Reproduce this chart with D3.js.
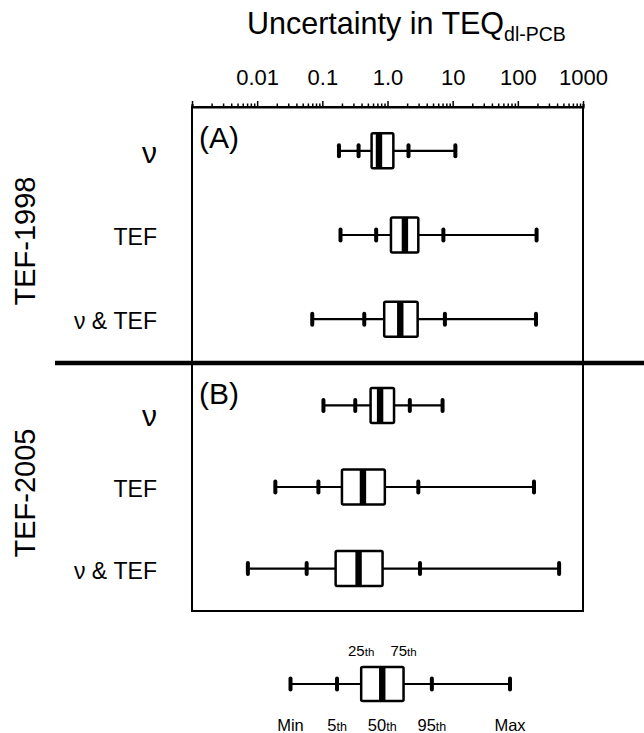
<!DOCTYPE html>
<html>
<head>
<meta charset="utf-8">
<script src="https://cdn.jsdelivr.net/npm/d3@7/dist/d3.min.js"></script>
<style>
  html, body { margin: 0; padding: 0; background: #fff; }
  svg { display: block; font-family: "Liberation Sans", Arial, Helvetica, sans-serif; }
</style>
</head>
<body>
<svg id="chart" width="644" height="733"></svg>
<script>
// ---------- data ----------
const categories = ["\u03bd", "TEF", "\u03bd & TEF"];
const panelNames = ["TEF-1998", "TEF-2005"];
const panelTags = ["(A)", "(B)"];
// stats order: min, 5th, 25th, 50th, 75th, 95th, max
const tef1998Nu     = [0.18, 0.36, 0.57, 0.74, 1.23, 2.1, 11];
const tef1998Tef    = [0.19, 0.67, 1.13, 1.85, 2.97, 7.2, 194];
const tef1998NuTef  = [0.07, 0.44, 0.89, 1.57, 2.9, 7.6, 190];
const tef2005Nu     = [0.104, 0.32, 0.55, 0.77, 1.26, 2.2, 7.0];
const tef2005Tef    = [0.019, 0.087, 0.2, 0.42, 0.91, 2.97, 177];
const tef2005NuTef  = [0.0072, 0.0575, 0.16, 0.36, 0.84, 3.15, 430];
const tickValues = [0.01, 0.1, 1, 10, 100, 1000];
const tickLabels = ["0.01", "0.1", "1.0", "10", "100", "1000"];
// legend (schematic positions, in percent of legend width)
const legendStats = [0, 21.2, 32.2, 41.8, 51.5, 64.4, 100];
const legendTop = [["25", "th"], ["75", "th"]];
const legendBottom = [["Min", ""], ["5", "th"], ["50", "th"], ["95", "th"], ["Max", ""]];

const panelData = [
  [tef1998Nu, tef1998Tef, tef1998NuTef],
  [tef2005Nu, tef2005Tef, tef2005NuTef]
];

(function () {
// ---------- layout ----------
const svg = d3.select("#chart");
const pL = 192, pR = 583, pT = 107, pM = 363, pB = 611;
const x = d3.scaleLog().domain([0.001, 1000]).range([pL, pR]);
const panelRanges = [[pT, pM], [pM, pB]];
const boxH = 35;

// title
const title = svg.append("text").attr("x", 247).attr("y", 34)
  .attr("font-size", 30.5).attr("fill", "#000");
title.append("tspan").text("Uncertainty in TEQ");
title.append("tspan").attr("font-size", 19.5).attr("dy", 7).text("dl-PCB");

// frame
svg.append("rect").attr("x", pL).attr("y", pT)
  .attr("width", pR - pL).attr("height", pB - pT)
  .attr("fill", "none").attr("stroke", "#000").attr("stroke-width", 2);

// top axis: minor ticks
const allTicks = x.ticks();
const isDecade = d => { const l = Math.log10(d); return Math.abs(l - Math.round(l)) < 1e-9; };
const axisG = svg.append("g").attr("transform", `translate(0,${pT})`)
  .call(d3.axisTop(x).tickValues(allTicks).tickSize(3).tickFormat(""));
axisG.select(".domain").attr("stroke-width", 2.2);
axisG.selectAll(".tick line")
  .attr("stroke-width", 1.5)
  .attr("y2", d => isDecade(d) ? -6 : -3.5);
// labels
const labAxis = svg.append("g").attr("transform", `translate(0,${pT - 22})`)
  .call(d3.axisTop(x).tickValues(tickValues).tickSize(0).tickPadding(0)
    .tickFormat((d, i) => tickLabels[i]));
labAxis.select(".domain").remove();
labAxis.selectAll("text").attr("font-size", 22).attr("fill", "#000")
  .attr("font-family", "'Liberation Sans', Arial, Helvetica, sans-serif")
  .attr("dy", 0);

// divider
svg.append("line").attr("x1", 55).attr("x2", 644).attr("y1", pM).attr("y2", pM)
  .attr("stroke", "#000").attr("stroke-width", 4.5);

function drawBox(g, s, sx, yc, h) {
  g.append("line").attr("x1", sx(s[0])).attr("x2", sx(s[6]))
    .attr("y1", yc).attr("y2", yc).attr("stroke", "#000").attr("stroke-width", 2.2);
  [0, 1, 5, 6].forEach(i => {
    g.append("line").attr("x1", sx(s[i])).attr("x2", sx(s[i]))
      .attr("y1", yc - 5.5).attr("y2", yc + 5.5)
      .attr("stroke", "#000").attr("stroke-width", 4).attr("stroke-linecap", "round");
  });
  g.append("rect").attr("x", sx(s[2])).attr("y", yc - h / 2)
    .attr("width", sx(s[4]) - sx(s[2])).attr("height", h)
    .attr("fill", "#fff").attr("stroke", "#000").attr("stroke-width", 2.5).attr("rx", 1.5);
  g.append("rect").attr("x", sx(s[3]) - 3.2).attr("y", yc - h / 2)
    .attr("width", 6.4).attr("height", h).attr("fill", "#000");
}

panelData.forEach((rows, p) => {
  const y = d3.scalePoint().domain(categories).range(panelRanges[p]).padding(0.52);
  const g = svg.append("g");
  rows.forEach((s, i) => drawBox(g, s, x, y(categories[i]), boxH));
  categories.forEach(c => {
    g.append("text").attr("x", 157).attr("y", y(c) + (p === 1 && c === categories[0] ? 10 : 2))
      .attr("text-anchor", "end").attr("dominant-baseline", "central")
      .attr("font-size", c === categories[0] ? 30 : 23).attr("fill", "#000")
      .text(c);
  });
  g.append("text").attr("x", 199).attr("y", panelRanges[p][0] + 41)
    .attr("font-size", 30).attr("fill", "#000").text(panelTags[p]);
  const yc = (y(categories[0]) + y(categories[2])) / 2 + 6;
  g.append("text").attr("transform", `translate(35,${yc}) rotate(-90)`)
    .attr("text-anchor", "middle").attr("font-size", 29).attr("fill", "#000")
    .text(panelNames[p]);
});

// legend
const lx = d3.scaleLinear().domain([0, 100]).range([290.5, 510]);
const lg = svg.append("g");
drawBox(lg, legendStats, lx, 684, 34);
function legendLabel(arr, idx, yBase, big, small) {
  arr.forEach((a, i) => {
    const t = lg.append("text").attr("x", lx(legendStats[idx[i]])).attr("y", yBase)
      .attr("text-anchor", "middle").attr("font-size", big).attr("fill", "#000");
    t.append("tspan").text(a[0]);
    if (a[1]) t.append("tspan").attr("font-size", small).text(a[1]);
  });
}
legendLabel(legendTop, [2, 4], 656, 15, 11.5);
legendLabel(legendBottom, [0, 1, 3, 5, 6], 731, 16.5, 12.5);
})();
</script>
</body>
</html>
